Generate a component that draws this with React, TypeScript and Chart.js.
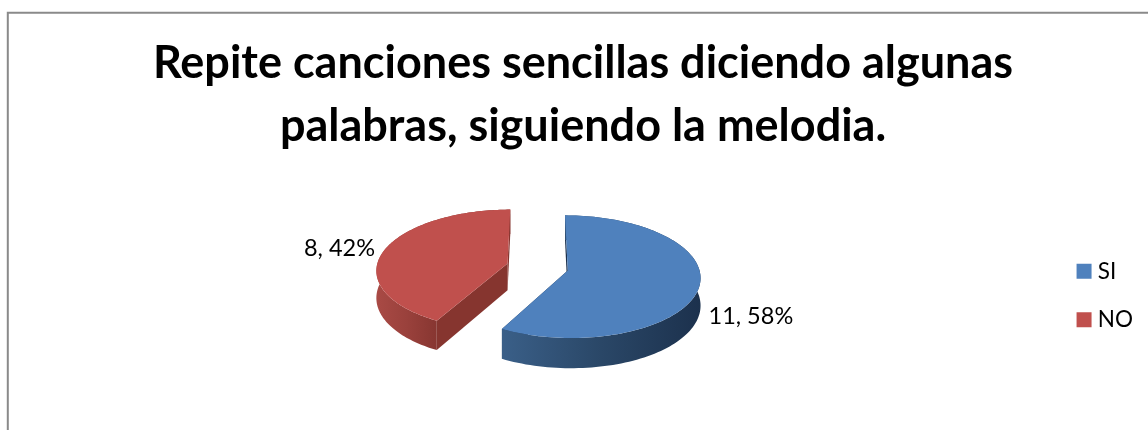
import React, { useEffect, useRef } from "react";
import { Chart, registerables } from "chart.js";

Chart.register(...registerables);

const titleLines = ["Repite canciones sencillas diciendo algunas", "palabras, siguiendo la melodia."];
const categories = ["SI", "NO"];
const counts = [11, 8];
const percentLabels = ["58%", "42%"];
const topColors = ["#4F81BD", "#C0504D"];
const faceColors = ["#1C314D", "#86352F"];
const wallStops = [
  ["#3A5F88", "#2A4767", "#1C314D"],
  ["#A94A45", "#9A413C", "#873631"],
];

const FONT = "Lato, Carlito, Calibri, sans-serif";

const P = { cx: 537.5, cy: 267, rx: 131, ry: 60, k: 0.1, depth: 27, explode: 0.237 };

function project(X: number, Y: number, z: number) {
  const w = 1 - P.k * Y;
  return { x: P.cx + (P.rx * X) / w, y: P.cy + (P.ry * Y + P.depth * z) / w };
}

const pie3d = {
  id: "pie3d",
  beforeDraw(chart: any) {
    const c = chart.ctx;
    c.save();
    c.strokeStyle = "#8A8A8A";
    c.lineWidth = 2;
    c.beginPath();
    c.moveTo(7.8, 430);
    c.lineTo(7.8, 12.8);
    c.lineTo(1148, 12.8);
    c.stroke();
    c.restore();
  },
  beforeDatasetsDraw(chart: any) {
    const c = chart.ctx;
    const meta = chart.getDatasetMeta(0);
    const order = [1, 0];
    c.save();
    for (const i of order) {
      const arc = meta.data[i];
      const a0 = arc.startAngle;
      const a1 = arc.endAngle;
      const mid = (a0 + a1) / 2;
      const ox = Math.cos(mid) * P.explode;
      const oy = Math.sin(mid) * P.explode;
      const rim: [number, number][] = [];
      const n = 120;
      for (let s = 0; s <= n; s++) {
        const a = a0 + ((a1 - a0) * s) / n;
        rim.push([ox + Math.cos(a), oy + Math.sin(a)]);
      }
      // cut faces
      c.fillStyle = faceColors[i];
      for (const end of [rim[0], rim[n]]) {
        const p = [project(ox, oy, 0), project(end[0], end[1], 0), project(end[0], end[1], 1), project(ox, oy, 1)];
        c.beginPath();
        p.forEach((q, j) => (j ? c.lineTo(q.x, q.y) : c.moveTo(q.x, q.y)));
        c.closePath();
        c.fill();
      }
      // outer wall
      const top = rim.map((r) => project(r[0], r[1], 0));
      const bot = rim.map((r) => project(r[0], r[1], 1));
      const xs = top.map((q) => q.x);
      const xMin = Math.min(...xs);
      const xMax = Math.max(...xs);
      const g = c.createLinearGradient(i === 0 ? project(rim[n][0], rim[n][1], 0).x : xMin, 0, i === 0 ? xMax : project(rim[0][0], rim[0][1], 0).x, 0);
      g.addColorStop(0, wallStops[i][0]);
      g.addColorStop(0.5, wallStops[i][1]);
      g.addColorStop(1, wallStops[i][2]);
      c.fillStyle = g;
      c.beginPath();
      top.forEach((q, j) => (j ? c.lineTo(q.x, q.y) : c.moveTo(q.x, q.y)));
      for (let j = n; j >= 0; j--) c.lineTo(bot[j].x, bot[j].y);
      c.closePath();
      c.fill();
      // top surface
      const apex = project(ox, oy, 0);
      c.fillStyle = topColors[i];
      c.beginPath();
      c.moveTo(apex.x, apex.y);
      top.forEach((q) => c.lineTo(q.x, q.y));
      c.closePath();
      c.fill();
    }
    // data labels
    c.fillStyle = "#000";
    c.font = `23.5px ${FONT}`;
    c.textBaseline = "middle";
    meta.data.forEach((arc: any, i: number) => {
      const mid = (arc.startAngle + arc.endAngle) / 2;
      const e = project(Math.cos(mid) * (1 + P.explode), Math.sin(mid) * (1 + P.explode), 0);
      const text = `${counts[i]}, ${percentLabels[i]}`;
      if (Math.cos(mid) > 0) {
        c.textAlign = "left";
        c.fillText(text, e.x + 9, e.y + 31);
      } else {
        c.textAlign = "right";
        c.fillText(text, e.x - 10, e.y - 1);
      }
    });
    c.restore();
    return false;
  },
};

export default function App() {
  const ref = useRef<HTMLCanvasElement>(null);
  useEffect(() => {
    document.body.style.margin = "0";
    const chart = new Chart(ref.current as HTMLCanvasElement, {
      type: "pie",
      data: {
        labels: categories,
        datasets: [{ data: counts, backgroundColor: topColors, borderWidth: 0 }],
      },
      options: {
        animation: false,
        responsive: false,
        layout: { padding: { left: 23, right: 5, top: 32, bottom: 73 } },
        plugins: {
          tooltip: { enabled: false },
          title: {
            display: true,
            text: titleLines,
            color: "#000",
            font: { family: FONT, size: 45, weight: "bold", lineHeight: 1.4 },
            padding: { top: 0, bottom: 10 },
          },
          legend: {
            display: true,
            position: "right",
            align: "end",
            labels: {
              usePointStyle: true,
              pointStyle: "rect",
              boxWidth: 5,
              boxHeight: 15,
              padding: 26,
              color: "#000",
              font: { family: FONT, size: 22.5 },
            },
          },
        },
      },
      plugins: [pie3d],
    } as any);
    return () => chart.destroy();
  }, []);
  return <canvas ref={ref} width={1148} height={430} style={{ display: "block", position: "absolute", left: 0, top: 0 }} />;
}
